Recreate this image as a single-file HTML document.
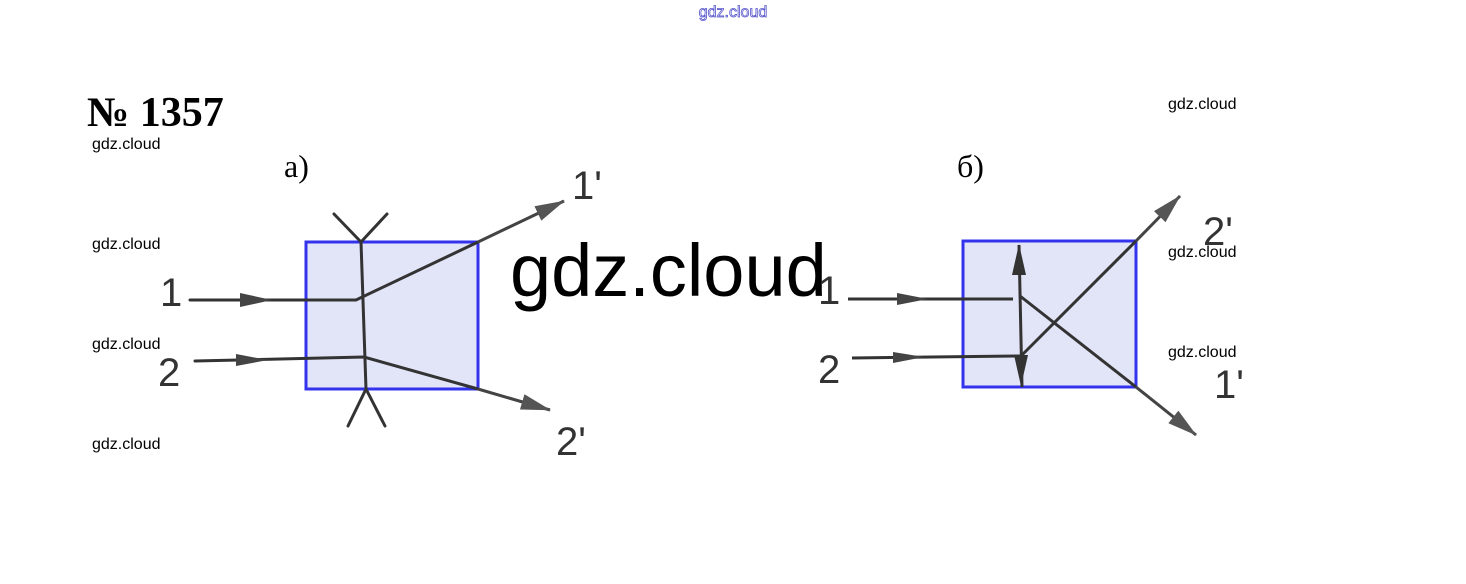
<!DOCTYPE html>
<html><head><meta charset="utf-8"><style>
html,body{margin:0;padding:0;background:#fff;width:1466px;height:584px;overflow:hidden}
svg{display:block}
</style></head><body>
<svg width="1466" height="584" viewBox="0 0 1466 584" xmlns="http://www.w3.org/2000/svg">
<defs>
<marker id="ahb" viewBox="0 0 30 16" markerWidth="30" markerHeight="16" refX="29" refY="8" orient="auto" markerUnits="userSpaceOnUse">
<path d="M0,0 L30,8 L0,16 Z" fill="#555"/></marker>
</defs>
<text x="733" y="17" font-family="Liberation Sans, sans-serif" font-size="16" fill="#fff" stroke="#5555cc" stroke-width="0.8" text-anchor="middle">gdz.cloud</text>
<text x="87" y="126" font-family="Liberation Serif, serif" font-size="42" font-weight="bold">№ 1357</text>
<g font-family="Liberation Sans, sans-serif" font-size="16">
<text x="92" y="149">gdz.cloud</text><text x="92" y="249">gdz.cloud</text>
<text x="92" y="349">gdz.cloud</text><text x="92" y="449">gdz.cloud</text>
<text x="1168" y="109">gdz.cloud</text><text x="1168" y="257">gdz.cloud</text>
<text x="1168" y="357">gdz.cloud</text>
</g>
<text x="284" y="177" font-family="Liberation Serif, serif" font-size="32">а)</text>
<text x="957" y="177" font-family="Liberation Serif, serif" font-size="32">б)</text>
<!-- left -->
<rect x="306" y="242" width="172" height="147" fill="#e2e4f8" stroke="#3333ee" stroke-width="3"/>
<g stroke="#333" stroke-width="3" fill="none" stroke-linecap="round">
<line x1="361" y1="242" x2="366" y2="389"/>
<polyline points="334,214 361,242 387,214"/>
<polyline points="348,426 366,389 385,426"/>
<polyline points="190,300 356,300 478,242"/>
<polyline points="195,361 364,357 478,389"/>
</g>
<line x1="478" y1="242" x2="564" y2="201" stroke="#444" stroke-width="3" marker-end="url(#ahb)"/>
<line x1="478" y1="389" x2="550" y2="410" stroke="#444" stroke-width="3" marker-end="url(#ahb)"/>
<path d="M240,293 L272,300 L240,307 Z" fill="#444"/>
<path d="M236,354 L268,360 L236,366 Z" fill="#444"/>
<g font-family="Liberation Sans, sans-serif" font-size="40" fill="#333">
<text x="160" y="306">1</text><text x="158" y="386">2</text>
<text x="572" y="199">1'</text><text x="556" y="455">2'</text>
<text x="818" y="304">1</text><text x="818" y="383">2</text>
<text x="1203" y="245">2'</text><text x="1214" y="398">1'</text>
</g>
<!-- right -->
<rect x="963" y="241" width="173" height="146" fill="#e2e4f8" stroke="#3333ee" stroke-width="3"/>
<g stroke="#333" stroke-width="3" fill="none">
<line x1="1019" y1="245" x2="1022" y2="387"/>
<line x1="848" y1="299" x2="1013" y2="299"/>
<line x1="852" y1="358" x2="1020" y2="356"/>
<line x1="1020" y1="296" x2="1136" y2="387"/>
<line x1="1022" y1="355" x2="1136" y2="241"/>
</g>
<line x1="1136" y1="387" x2="1196" y2="435" stroke="#444" stroke-width="3" marker-end="url(#ahb)"/>
<line x1="1136" y1="241" x2="1180" y2="196" stroke="#444" stroke-width="3" marker-end="url(#ahb)"/>
<path d="M1012,275 L1019,244 L1026,275 Z" fill="#333"/>
<path d="M1014,355 L1021,386 L1028,355 Z" fill="#333"/>
<path d="M897,293 L928,299 L897,305 Z" fill="#444"/>
<path d="M893,352 L924,357 L893,363 Z" fill="#444"/>
<text x="510" y="296" font-family="Liberation Sans, sans-serif" font-size="74" fill="#000">gdz.cloud</text>
</svg>
</body></html>
